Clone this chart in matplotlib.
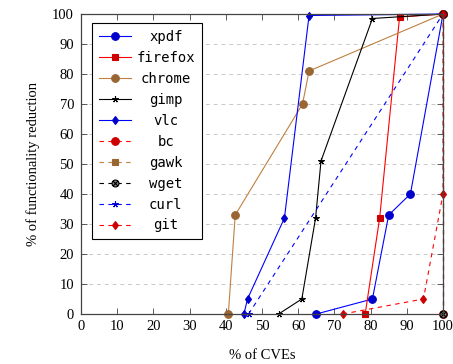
import matplotlib.pyplot as plt
import numpy as np
from matplotlib.path import Path
from matplotlib.markers import MarkerStyle

# data
xpdf_x = [65, 80.5, 85, 91, 100]
xpdf_y = [0, 5, 33, 40, 100]
firefox_x = [78.5, 82.5, 88, 100]
firefox_y = [0, 32, 99, 100]
chrome_x = [40.7, 42.6, 61.2, 63, 100]
chrome_y = [0, 33, 70, 81, 100]
gimp_x = [54.6, 61, 64.8, 66.3, 80.5, 100]
gimp_y = [0, 5, 32, 51, 98.5, 100]
vlc_x = [45, 46, 56.2, 63, 100]
vlc_y = [0, 5, 32, 99.5, 100]
bc_x = [100, 100]
bc_y = [0, 100]
gawk_x = [100, 100]
gawk_y = [0, 100]
wget_x = [100, 100]
wget_y = [0, 100]
curl_x = [46.3, 100]
curl_y = [0, 100]
git_x = [72.3, 94.6, 100, 100]
git_y = [0, 5, 40, 100]

blue, red, brown, black = '#0000ff', '#ff0000', '#bf8040', '#000000'
def dark(c):
    r, g, b = [int(c[i:i+2], 16) / 255 for i in (1, 3, 5)]
    return (0.8 * r, 0.8 * g, 0.8 * b)

otimes = Path.make_compound_path(
    Path.unit_circle(),
    Path([(-0.7, -0.7), (0.7, 0.7)]),
    Path([(-0.7, 0.7), (0.7, -0.7)]))
star = (5, 2, 0)
thin_d = MarkerStyle('d')

series = [
    ('xpdf', xpdf_x, xpdf_y, blue, '-', 'o', 5.5),
    ('firefox', firefox_x, firefox_y, red, '-', 's', 5),
    ('chrome', chrome_x, chrome_y, brown, '-', 'o', 5.5),
    ('gimp', gimp_x, gimp_y, black, '-', star, 4.5),
    ('vlc', vlc_x, vlc_y, blue, '-', 'd', 4.5),
    ('bc', bc_x, bc_y, red, '--', 'o', 5.5),
    ('gawk', gawk_x, gawk_y, brown, '--', 's', 5),
    ('wget', wget_x, wget_y, black, '--', otimes, 5),
    ('curl', curl_x, curl_y, blue, '--', star, 4.5),
    ('git', git_x, git_y, red, '--', 'd', 4.5),
]

plt.rcParams['font.family'] = ['Liberation Serif', 'DejaVu Serif']
plt.rcParams['font.size'] = 10.5

fig = plt.figure(figsize=(4.53, 3.64), dpi=100)
ax = fig.add_axes([81 / 453, 50 / 364, 362 / 453, 300 / 364])

for name, x, y, c, ls, m, ms in series:
    kw = dict(lw=0.8, ms=ms, mew=0.8, label=name, clip_on=False, color=c)
    if ls == '--':
        kw['dashes'] = (4, 4)
    if m is otimes:
        ax.plot(x, y, marker=MarkerStyle(m), mfc='#808080', mec='black', **kw)
    else:
        ax.plot(x, y, marker=m, mfc=dark(c), mec=dark(c), **kw)

ax.set_xlim(0, 100)
ax.set_ylim(0, 100)
ax.set_xticks(np.arange(0, 101, 10))
ax.set_yticks(np.arange(0, 101, 10))
ax.tick_params(direction='in', length=4, width=0.6, top=True, right=True,
               color='#444444')
ax.tick_params(axis='x', pad=4)
ax.tick_params(axis='y', pad=5)
ax.yaxis.grid(True, ls=(0, (4, 4)), color='#c8c8c8', lw=0.7)
ax.set_axisbelow(True)
for s in ax.spines.values():
    s.set_linewidth(0.9)
    s.set_color('#444444')

ax.set_xlabel('% of CVEs', labelpad=12)
ax.set_ylabel('% of functionality reduction', labelpad=9)

leg = ax.legend(loc='upper left', bbox_to_anchor=(11 / 362, 1 - 9 / 300),
                borderaxespad=0, fancybox=False, framealpha=1,
                edgecolor='black', prop={'family': 'DejaVu Sans Mono', 'size': 10},
                handlelength=2.3, handletextpad=0.4, labelspacing=0.5,
                borderpad=0.5)
leg.get_frame().set_linewidth(0.8)
leg.set_zorder(5)

# center legend labels like pgfplots
fig.canvas.draw()
ws = [t.get_window_extent().width for t in leg.get_texts()]
mw = max(ws)
for t, w in zip(leg.get_texts(), ws):
    t.set_x((mw - w) / 2)

fig.savefig('out.png', dpi=100)
